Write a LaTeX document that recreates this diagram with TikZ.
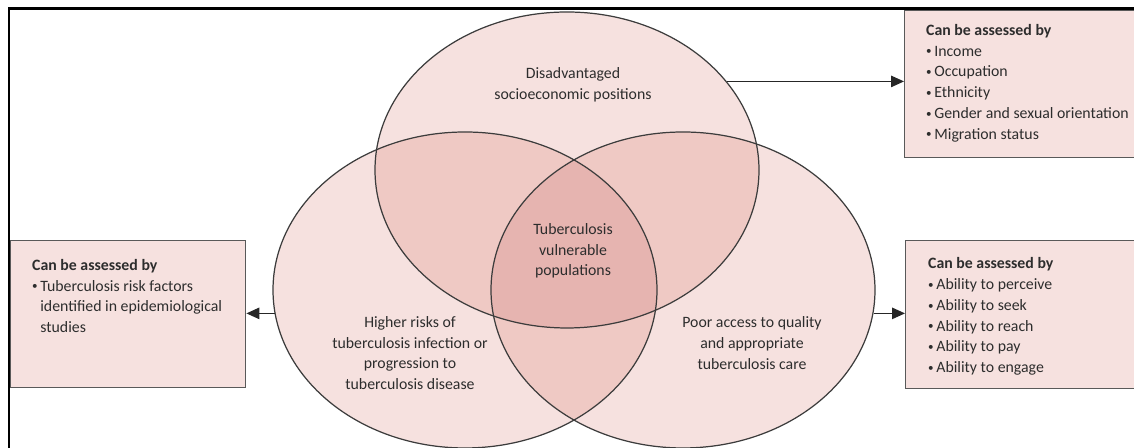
\documentclass[tikz,border=0pt]{standalone}
\usepackage{fontspec}
\setmainfont{Carlito}
\usetikzlibrary{shapes.geometric,arrows.meta}
\definecolor{pinkone}{RGB}{246,225,223}
\definecolor{pinktwo}{RGB}{239,201,196}
\definecolor{pinkthree}{RGB}{230,180,176}
\definecolor{edgegray}{RGB}{60,60,60}
\definecolor{txtgray}{RGB}{45,45,45}
\newcommand{\bul}{\raisebox{0.15ex}{\scalebox{0.7}{•}}\,}

\begin{document}
\begin{tikzpicture}[
    venn/.style={ellipse, draw=edgegray, line width=0.7pt, minimum width=7.68cm, minimum height=6.32cm, inner sep=0},
    assess/.style={rectangle, draw=black!65, line width=0.8pt, fill=pinkone, inner sep=0, anchor=north west},
    lbl/.style={align=center, text=txtgray, font=\fontsize{9}{11.8}\selectfont},
    lst/.style={align=left, text=txtgray, anchor=west, font=\fontsize{9}{11.8}\selectfont},
    arr/.style={-{Triangle[length=2.6mm,width=2.3mm]}, line width=0.7pt, black!85}
  ]
  \useasboundingbox (0,0) rectangle (22.68,8.96);
  % centres of the three sets
  \coordinate (cS) at (11.34,5.56);
  \coordinate (cR) at (9.30,3.16);
  \coordinate (cA) at (13.66,3.16);
  \fill[pinkone] (cS) ellipse (3.84 and 3.16);
  \fill[pinkone] (cR) ellipse (3.84 and 3.16);
  \fill[pinkone] (cA) ellipse (3.84 and 3.16);
  \begin{scope}
    \clip (cS) ellipse (3.84 and 3.16);
    \fill[pinktwo] (cR) ellipse (3.84 and 3.16);
    \fill[pinktwo] (cA) ellipse (3.84 and 3.16);
  \end{scope}
  \begin{scope}
    \clip (cR) ellipse (3.84 and 3.16);
    \fill[pinktwo] (cA) ellipse (3.84 and 3.16);
  \end{scope}
  \begin{scope}
    \clip (cS) ellipse (3.84 and 3.16);
    \clip (cR) ellipse (3.84 and 3.16);
    \fill[pinkthree] (cA) ellipse (3.84 and 3.16);
  \end{scope}
  \node[venn] (soc) at (cS) {};
  \node[venn] (risk) at (cR) {};
  \node[venn] (access) at (cA) {};
  % labels in the sets
  \node[lbl] (soclbl) at (11.46,7.27) {Disadvantaged\\socioeconomic positions};
  \node[lbl] (tbvp) at (11.46,3.94) {Tuberculosis\\vulnerable\\populations};
  \node[lbl] (risklbl) at (8.20,1.90) {Higher risks of\\tuberculosis infection or\\progression to\\tuberculosis disease};
  \node[lbl] (accesslbl) at (15.04,2.10) {Poor access to quality\\and appropriate\\tuberculosis care};
  % boxes
  \node[assess, minimum width=5cm, minimum height=2.94cm] (socbox) at (18.08,8.76) {};
  \node[assess, minimum width=5cm, minimum height=2.96cm] (accessbox) at (18.10,4.16) {};
  \node[assess, minimum width=4.70cm, minimum height=2.94cm] (riskbox) at (0.20,4.16) {};
  \node[lst] (soclist) at (18.40,7.30) {\textbf{Can be assessed by}\\\bul Income\\\bul Occupation\\\bul Ethnicity\\\bul Gender and sexual orientation\\\bul Migration status};
  \node[lst] (accesslist) at (18.44,2.63) {\textbf{Can be assessed by}\\\bul Ability to perceive\\\bul Ability to seek\\\bul Ability to reach\\\bul Ability to pay\\\bul Ability to engage};
  \node[lst] (risklist) at (0.52,3.04) {\textbf{Can be assessed by}\\\bul Tuberculosis risk factors\\\phantom{\bul}identified in epidemiological\\\phantom{\bul}studies};
  % arrows
  \draw[arr] (soc.29) -- (soc.29 -| socbox.west);
  \draw[arr] (access.353) -- (access.353 -| accessbox.west);
  \draw[arr] (risk.187) -- (risk.187 -| riskbox.east);
  % frame
  \draw[line width=1.7pt] (0.18,0) -- (0.18,8.78) -- (22.9,8.78);
\end{tikzpicture}
\end{document}
